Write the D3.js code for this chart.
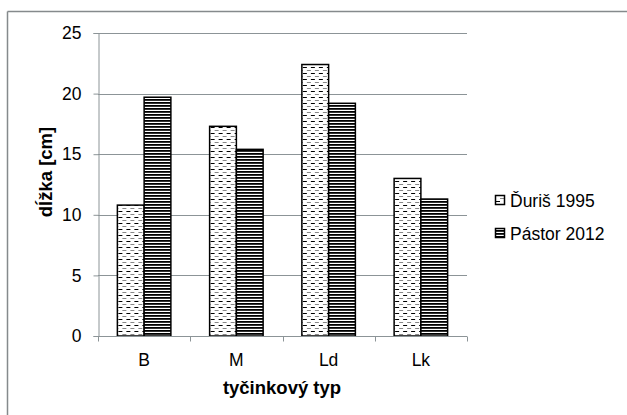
<!DOCTYPE html>
<html>
<head>
<meta charset="utf-8">
<script src="https://cdn.jsdelivr.net/npm/d3@7"></script>
<style>
  body { margin: 0; background: #fff; }
  text { font-family: "Liberation Sans", Arial, sans-serif; fill: #000; }
</style>
</head>
<body>
<script>
const width = 627;
const height = 415;

// data
var categories = ["B", "M", "Ld", "Lk"];
var seriesNames = ["Ďuriš 1995", "Pástor 2012"];
var duris = [10.8, 17.3, 22.4, 13.0];
var pastor = [19.7, 15.4, 19.2, 11.3];
var yTicks = [0, 5, 10, 15, 20, 25];

var rows = categories.map(function(c, i) {
  return { cat: c, values: [duris[i], pastor[i]] };
});

var svg = d3.select("body")
  .append("svg")
  .attr("width", width)
  .attr("height", height);

// patterns
var defs = svg.append("defs");
var dots = defs.append("pattern")
  .attr("id", "dashes")
  .attr("patternUnits", "userSpaceOnUse")
  .attr("width", 8).attr("height", 6);
dots.append("rect").attr("width", 8).attr("height", 6).attr("fill", "#fff");
dots.append("rect").attr("x", 1).attr("y", 1).attr("width", 4).attr("height", 1).attr("fill", "#000");
dots.append("rect").attr("x", 5).attr("y", 4).attr("width", 4).attr("height", 1).attr("fill", "#888");
dots.append("rect").attr("x", -3).attr("y", 4).attr("width", 4).attr("height", 1).attr("fill", "#888");

var stripes = defs.append("pattern")
  .attr("id", "stripes")
  .attr("patternUnits", "userSpaceOnUse")
  .attr("width", 4).attr("height", 3);
stripes.append("rect").attr("width", 4).attr("height", 3).attr("fill", "#fff");
stripes.append("rect").attr("y", 0).attr("width", 4).attr("height", 1.8).attr("fill", "#000");

var fills = ["url(#dashes)", "url(#stripes)"];

// outer frame (only top and left visible)
svg.append("line").attr("x1", 7.5).attr("y1", 11.5).attr("x2", width).attr("y2", 11.5)
  .attr("stroke", "#858a8c").attr("stroke-width", 1.5);
svg.append("line").attr("x1", 7.5).attr("y1", 11.5).attr("x2", 7.5).attr("y2", height)
  .attr("stroke", "#858a8c").attr("stroke-width", 1.5);

// scales
var x0 = d3.scaleBand()
  .domain(categories)
  .range([98, 467])
  .paddingInner(0.42)
  .paddingOuter(0.21);

var x1 = d3.scaleBand()
  .domain([0, 1])
  .range([0, x0.bandwidth()]);

var y = d3.scaleLinear()
  .domain([0, 25])
  .range([336, 33]);

// gridlines
svg.append("g")
  .selectAll("line")
  .data(yTicks.slice(1))
  .enter().append("line")
  .attr("x1", 98).attr("x2", 467)
  .attr("y1", function(d) { return Math.round(y(d)) + 0.5; })
  .attr("y2", function(d) { return Math.round(y(d)) + 0.5; })
  .attr("stroke", "#8c9497").attr("stroke-width", 1);

// y axis
var y_axis = d3.axisLeft(y).tickValues(yTicks).tickSize(5).tickPadding(12);
var gy = svg.append("g")
  .attr("transform", "translate(98.5,0)")
  .call(y_axis);
gy.select(".domain").attr("stroke", "#8c9497");
gy.selectAll(".tick line").attr("stroke", "#8c9497");
gy.selectAll(".tick text").attr("font-size", "17.5px").attr("font-family", "Liberation Sans, Arial, sans-serif");

// bars
svg.append("g")
  .selectAll("g")
  .data(rows)
  .enter().append("g")
  .attr("transform", function(d) { return "translate(" + x0(d.cat) + ",0)"; })
  .selectAll("rect")
  .data(function(d) { return d.values.map(function(v, i) { return { i: i, v: v }; }); })
  .enter().append("rect")
  .attr("x", function(d) { return x1(d.i); })
  .attr("y", function(d) { return y(d.v); })
  .attr("width", x1.bandwidth())
  .attr("height", function(d) { return y(0) - y(d.v); })
  .attr("fill", function(d) { return fills[d.i]; })
  .attr("stroke", "#000")
  .attr("stroke-width", 1.5);

// x axis line and boundary ticks
var xAxisY = 336.5;
svg.append("line").attr("x1", 98).attr("x2", 467).attr("y1", xAxisY).attr("y2", xAxisY)
  .attr("stroke", "#8c9497");
var bounds = [0].concat(categories.map(function(c) { return x0(c) - x0.step() * 0.21 + x0.step(); }));
svg.append("g")
  .selectAll("line")
  .data(bounds)
  .enter().append("line")
  .attr("x1", function(d, i) { return i === 0 ? 98.5 : Math.round(d) + 0.5; })
  .attr("x2", function(d, i) { return i === 0 ? 98.5 : Math.round(d) + 0.5; })
  .attr("y1", xAxisY).attr("y2", xAxisY + 5)
  .attr("stroke", "#8c9497");

// category labels
svg.append("g")
  .selectAll("text")
  .data(categories)
  .enter().append("text")
  .attr("x", function(d) { return x0(d) + x0.bandwidth() / 2; })
  .attr("y", 366)
  .attr("text-anchor", "middle")
  .attr("font-size", "17.5px")
  .text(function(d) { return d; });

// axis titles
svg.append("text")
  .attr("x", 282)
  .attr("y", 394)
  .attr("text-anchor", "middle")
  .attr("font-size", "18.5px")
  .attr("font-weight", "bold")
  .text("tyčinkový typ");

svg.append("text")
  .attr("transform", "translate(52,172) rotate(-90)")
  .attr("text-anchor", "middle")
  .attr("font-size", "18.5px")
  .attr("font-weight", "bold")
  .text("dĺžka [cm]");

// legend
var legend = svg.append("g")
  .selectAll("g")
  .data(seriesNames)
  .enter().append("g")
  .attr("transform", function(d, i) { return "translate(495," + (200 + i * 33) + ")"; });
legend.append("rect")
  .attr("x", 0.5).attr("y", -4.5)
  .attr("width", 9).attr("height", 9)
  .attr("fill", function(d, i) { return fills[i]; })
  .attr("stroke", "#000").attr("stroke-width", 1.5);
legend.append("text")
  .attr("x", 15)
  .attr("y", 6.5)
  .attr("font-size", "17.5px")
  .text(function(d) { return d; });
</script>
</body>
</html>
